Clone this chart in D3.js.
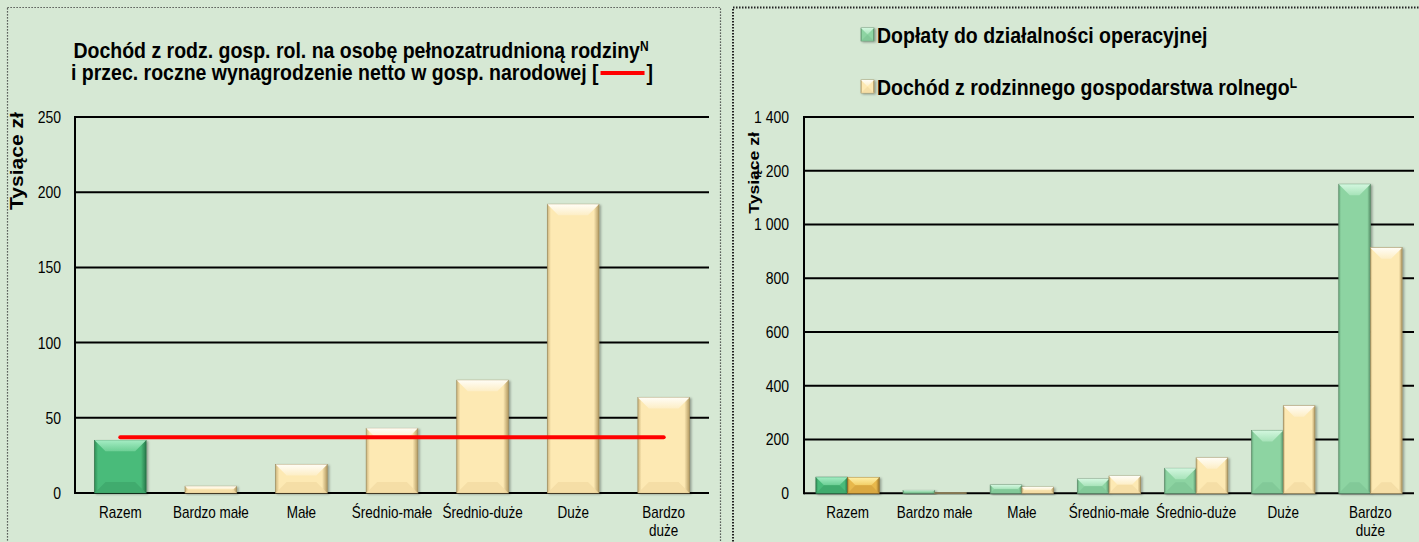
<!DOCTYPE html>
<html><head><meta charset="utf-8">
<script src="https://cdn.jsdelivr.net/npm/d3@7"></script>
<style>html,body{margin:0;padding:0;background:#d6e8d4;} svg{display:block}</style>
</head><body><svg id="c" width="1419" height="542"></svg>
<script>
// ---------- DATA ----------
const categories = ["Razem", "Bardzo małe", "Małe", "Średnio-małe", "Średnio-duże", "Duże", "Bardzo duże"];
const categoryLabelLines = [["Razem"], ["Bardzo małe"], ["Małe"], ["Średnio-małe"], ["Średnio-duże"], ["Duże"], ["Bardzo", "duże"]];
// left chart: income per family AWU (thousand PLN)
const incomePerFamilyAWU = [35, 4.5, 19, 43, 75, 192, 63.5];
// average annual net wage in national economy (red line)
const averageNetWage = [37, 37, 37, 37, 37, 37, 37];
const leftTicks = [0, 50, 100, 150, 200, 250];
// right chart (thousand PLN)
const operatingSubsidies = [60, 11, 31, 53, 93, 234, 1150];
const familyFarmIncome = [59, 2, 23, 64, 132, 326, 914];
const rightTicks = [0, 200, 400, 600, 800, 1000, 1200, 1400];
const seriesNames = ["Dopłaty do działalności operacyjnej", "Dochód z rodzinnego gospodarstwa rolnego"];

// ---------- SETUP ----------
const svg = d3.select("#c");
const FONT = "'Liberation Sans', Arial, sans-serif";
const K = 1.17; // vertical stretch of text
const defs = svg.append("defs");

const palettes = {
  yellow: {base: "#fde9b3", top1: "#fffdf6", top2: "#fdeec6", bottom: "#f2dba2", edgeL: "#cdb57c", edgeR: "#b39a62", stroke: "#9c8a5c"},
  green:  {base: "#4abb7a", top1: "#a4ecc3", top2: "#6ccf95", bottom: "#3fa86c", edgeL: "#2f8d57", edgeR: "#287a4b", stroke: "#2f6e47"},
  lgreen: {base: "#8dd4a2", top1: "#d3f7df", top2: "#a7e3b9", bottom: "#80c596", edgeL: "#66a67a", edgeR: "#568f68", stroke: "#5c8a69"},
  gold:   {base: "#e8b84c", top1: "#fff0a8", top2: "#f3cf66", bottom: "#d6a43e", edgeL: "#b48a34", edgeR: "#9b752a", stroke: "#8a6a2a"}
};
Object.entries(palettes).forEach(([k, p]) => {
  const gh = defs.append("linearGradient").attr("id", "h_" + k).attr("x1", 0).attr("x2", 1).attr("y1", 0).attr("y2", 0);
  gh.append("stop").attr("offset", "0%").attr("stop-color", p.edgeL);
  gh.append("stop").attr("offset", "7%").attr("stop-color", p.base);
  gh.append("stop").attr("offset", "90%").attr("stop-color", p.base);
  gh.append("stop").attr("offset", "100%").attr("stop-color", p.edgeR);
  const gt = defs.append("linearGradient").attr("id", "t_" + k).attr("x1", 0).attr("x2", 0).attr("y1", 0).attr("y2", 1);
  gt.append("stop").attr("offset", "0%").attr("stop-color", p.top1);
  gt.append("stop").attr("offset", "100%").attr("stop-color", p.top2);
});
const sh = defs.append("filter").attr("id", "shadow").attr("x", "-20%").attr("y", "-20%").attr("width", "150%").attr("height", "150%");
sh.append("feDropShadow").attr("dx", 1.5).attr("dy", 1).attr("stdDeviation", 1.2).attr("flood-color", "#000").attr("flood-opacity", 0.35);

function bevelBar(g, x, y, w, h, key) {
  const p = palettes[key];
  const bg = g.append("g").attr("filter", "url(#shadow)");
  bg.append("rect").attr("x", x).attr("y", y).attr("width", w).attr("height", h)
    .attr("fill", `url(#h_${key})`).attr("stroke", p.stroke).attr("stroke-width", 0.7);
  const b = Math.min(11, w / 2, h / 2);
  if (b > 0.5) {
    bg.append("polygon").attr("points", [[x, y], [x + w, y], [x + w - b, y + b], [x + b, y + b]].map(d => d.join(",")).join(" "))
      .attr("fill", `url(#t_${key})`);
    bg.append("polygon").attr("points", [[x, y + h], [x + w, y + h], [x + w - b, y + h - b], [x + b, y + h - b]].map(d => d.join(",")).join(" "))
      .attr("fill", p.bottom).attr("opacity", 0.8);
  }
}

function txt(parent, x, y, str, o = {}) {
  const g = parent.append("g").attr("transform", `translate(${x},${y}) scale(1,${K})` + (o.rotate ? ` rotate(${o.rotate})` : ""));
  const t = g.append("text").attr("font-family", FONT).attr("font-size", o.size || 13)
    .attr("font-weight", o.weight || "normal").attr("text-anchor", o.anchor || "middle").attr("fill", o.fill || "#000");
  if (o.dy) t.attr("dy", o.dy);
  if (str != null) t.text(str);
  return t;
}

const fmtLocale = d3.formatLocale({decimal: ",", thousands: "\u00a0", grouping: [3], currency: ["", ""]});
const fmtThousands = fmtLocale.format(",d");

// panel borders
svg.append("rect").attr("x", 7.5).attr("y", 7.5).attr("width", 713).attr("height", 560)
  .attr("fill", "none").attr("stroke", "#333").attr("stroke-width", 1.2).attr("stroke-dasharray", "1.2,1.8");
svg.append("rect").attr("x", 733).attr("y", 7.5).attr("width", 700).attr("height", 560)
  .attr("fill", "none").attr("stroke", "#222").attr("stroke-width", 2).attr("stroke-dasharray", "1.5,1.5");

// ---------- LEFT CHART ----------
const L = svg.append("g");
const xL = d3.scaleBand().domain(categories).range([75, 709]).paddingInner(0.43).paddingOuter(0.215);
const yL = d3.scaleLinear().domain([0, 250]).range([493, 117]);

L.selectAll("line.grid").data(leftTicks).join("line")
  .attr("x1", 75).attr("x2", 709).attr("y1", d => yL(d)).attr("y2", d => yL(d))
  .attr("stroke", "#000").attr("stroke-width", 2);
L.append("line").attr("x1", 75).attr("x2", 75).attr("y1", yL(250) - 1).attr("y2", yL(0) + 1).attr("stroke", "#000").attr("stroke-width", 2);
leftTicks.forEach(t => txt(L, 61, yL(t), String(t), {anchor: "end", dy: "0.36em", size: 14}));

categories.forEach((c, i) => {
  const v = incomePerFamilyAWU[i];
  bevelBar(L, xL(c), yL(v), xL.bandwidth(), yL(0) - yL(v), i === 0 ? "green" : "yellow");
});
const lineL = d3.line().x((d, i) => xL(categories[i]) + xL.bandwidth() / 2).y(d => yL(d));
L.append("path").attr("d", lineL(averageNetWage)).attr("fill", "none").attr("stroke", "#ff0000")
  .attr("stroke-width", 4).attr("stroke-linecap", "round");

categoryLabelLines.forEach((lines, i) => {
  lines.forEach((s, j) => txt(L, xL(categories[i]) + xL.bandwidth() / 2, 518 + j * 18, s, {size: 13.5}));
});

// title
{
  const t1 = txt(L, 0, 58, null, {size: 19.5, weight: "bold", anchor: "start"});
  t1.append("tspan").text("Dochód z rodz. gosp. rol. na osobę pełnozatrudnioną rodziny");
  t1.append("tspan").attr("font-size", 12).attr("dy", -6).text("N");
  const w1 = t1.node().getComputedTextLength();
  d3.select(t1.node().parentNode).attr("transform", `translate(${361 - w1 / 2},58) scale(1,${K})`);

  const gap = 48;
  const t2 = txt(L, 0, 80, null, {size: 19.5, weight: "bold", anchor: "start"});
  const s1 = t2.append("tspan").text("i przec. roczne wynagrodzenie netto w gosp. narodowej [");
  t2.append("tspan").attr("dx", gap).text("]");
  const wA = s1.node().getComputedTextLength();
  const w2 = t2.node().getComputedTextLength() + gap;
  const x0 = 362 - w2 / 2;
  d3.select(t2.node().parentNode).attr("transform", `translate(${x0},80) scale(1,${K})`);
  L.append("line").attr("x1", x0 + wA + 2).attr("x2", x0 + wA + gap - 2).attr("y1", 73).attr("y2", 73)
    .attr("stroke", "#ff0000").attr("stroke-width", 4);
}
txt(L, 23, 161, "Tysiące zł", {size: 18, weight: "bold", rotate: -90});

// ---------- RIGHT CHART ----------
const R = svg.append("g");
const xR = d3.scaleBand().domain(categories).range([804, 1414]).paddingInner(0.273).paddingOuter(0.1365);
const x1 = d3.scaleBand().domain(["sub", "inc"]).range([0, xR.bandwidth()]);
const yR = d3.scaleLinear().domain([0, 1400]).range([493.3, 117]);

R.selectAll("line.grid").data(rightTicks).join("line")
  .attr("x1", 804).attr("x2", 1414).attr("y1", d => yR(d)).attr("y2", d => yR(d))
  .attr("stroke", "#000").attr("stroke-width", 2);
R.append("line").attr("x1", 804).attr("x2", 804).attr("y1", yR(1400) - 1).attr("y2", yR(0) + 1).attr("stroke", "#000").attr("stroke-width", 2);
rightTicks.forEach(t => txt(R, 789, yR(t), fmtThousands(t), {anchor: "end", dy: "0.36em", size: 14}));

categories.forEach((c, i) => {
  const a = operatingSubsidies[i], b = familyFarmIncome[i];
  bevelBar(R, xR(c) + x1("sub"), yR(a), x1.bandwidth(), yR(0) - yR(a), i === 0 ? "green" : "lgreen");
  bevelBar(R, xR(c) + x1("inc"), yR(b), x1.bandwidth(), yR(0) - yR(b), i === 0 ? "gold" : "yellow");
});
categoryLabelLines.forEach((lines, i) => {
  lines.forEach((s, j) => txt(R, xR(categories[i]) + xR.bandwidth() / 2, 518 + j * 18, s, {size: 13.5}));
});
txt(R, 759, 173, "Tysiące zł", {size: 15, weight: "bold", rotate: -90});

// legend
const legY = [28, 80];
const legKeys = ["lgreen", "yellow"];
seriesNames.forEach((s, i) => {
  bevelBar(R, 861, legY[i], 13, 13, legKeys[i]);
  const t = txt(R, 877, legY[i] + 15, null, {size: 19.5, weight: "bold", anchor: "start"});
  t.append("tspan").text(s);
  if (i === 1) t.append("tspan").attr("font-size", 12).attr("dy", -6).text("L");
});
</script>
</body></html>
